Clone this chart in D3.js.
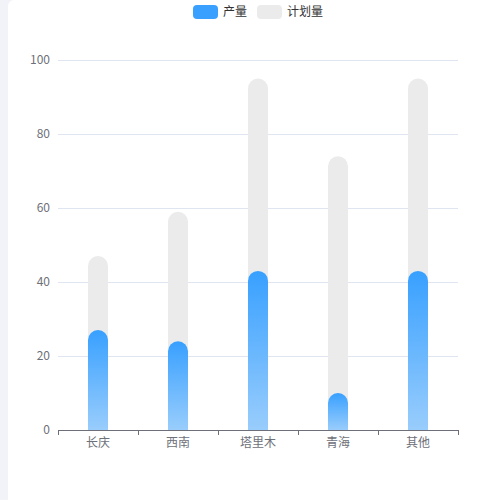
<!DOCTYPE html>
<html>
<head>
<meta charset="utf-8">
<script src="https://cdn.jsdelivr.net/npm/d3@7"></script>
<style>
  html, body { margin: 0; padding: 0; background: #f2f3f8; }
  #card { position: absolute; left: 8px; top: 0; width: 492px; height: 500px; background: #fff; border-radius: 6px 0 0 0; }
  svg { position: absolute; left: 0; top: 0; }
  text { font-family: "Noto Sans CJK SC", "Noto Sans", sans-serif; }
</style>
</head>
<body>
<div id="card"></div>
<svg id="chart" width="500" height="500"></svg>
<script>
// data
const categories = ["长庆", "西南", "塔里木", "青海", "其他"];
const output     = [27, 24, 43, 10, 43];   // 产量
const planned    = [47, 59, 95, 74, 95];   // 计划量
const yTicks     = [0, 20, 40, 60, 80, 100];
const seriesNames = ["产量", "计划量"];

const svg = d3.select("#chart");
const margin = { top: 60, right: 42, bottom: 70, left: 58 };
const W = 500, H = 500;
const width = W - margin.left - margin.right;
const height = H - margin.top - margin.bottom;
const g = svg.append("g").attr("transform", `translate(${margin.left},${margin.top})`);

const x = d3.scaleBand().domain(categories).range([0, width]);
const y = d3.scaleLinear().domain([0, 100]).range([height, 0]);
const barW = 20;

// gradient for 产量
const defs = svg.append("defs");
const grad = defs.append("linearGradient").attr("id", "blueGrad")
  .attr("x1", 0).attr("y1", 0).attr("x2", 0).attr("y2", 1);
grad.append("stop").attr("offset", "0%").attr("stop-color", "#38a0ff");
grad.append("stop").attr("offset", "100%").attr("stop-color", "#99cdfc");

// gridlines
g.append("g")
  .selectAll("line")
  .data(yTicks.filter(d => d > 0))
  .join("line")
  .attr("x1", 0).attr("x2", width)
  .attr("y1", d => Math.round(y(d)) + 0.5).attr("y2", d => Math.round(y(d)) + 0.5)
  .attr("stroke", "#e0e6f1");

// y labels
g.append("g")
  .selectAll("text")
  .data(yTicks)
  .join("text")
  .attr("x", -8).attr("y", d => y(d))
  .attr("dy", "0.35em")
  .attr("text-anchor", "end")
  .attr("font-size", 12)
  .attr("fill", "#6e7079")
  .text(d => d);

// rounded-top bar path
function barPath(cx, v) {
  const r = barW / 2;
  const x0 = cx - r, x1 = cx + r;
  const yb = y(0), yt = y(v);
  const rr = Math.min(r, yb - yt);
  return `M${x0},${yb}L${x0},${yt + rr}A${r},${rr} 0 0 1 ${x1},${yt + rr}L${x1},${yb}Z`;
}

// planned bars (background)
g.append("g")
  .selectAll("path")
  .data(categories)
  .join("path")
  .attr("d", (c, i) => barPath(x(c) + x.bandwidth() / 2, planned[i]))
  .attr("fill", "#ebebeb");

// output bars
g.append("g")
  .selectAll("path")
  .data(categories)
  .join("path")
  .attr("d", (c, i) => barPath(x(c) + x.bandwidth() / 2, output[i]))
  .attr("fill", "url(#blueGrad)");

// x axis
const xAxis = g.append("g").attr("transform", `translate(0,${height})`);
xAxis.append("line")
  .attr("x1", 0).attr("x2", width).attr("y1", 0.5).attr("y2", 0.5)
  .attr("stroke", "#6e7079");
xAxis.selectAll("line.tick")
  .data(d3.range(categories.length + 1))
  .join("line").attr("class", "tick")
  .attr("x1", i => Math.round(i * x.bandwidth()) + 0.5)
  .attr("x2", i => Math.round(i * x.bandwidth()) + 0.5)
  .attr("y1", 0).attr("y2", 5)
  .attr("stroke", "#6e7079");
xAxis.selectAll("text")
  .data(categories)
  .join("text")
  .attr("x", c => x(c) + x.bandwidth() / 2)
  .attr("y", 13)
  .attr("dy", "0.35em")
  .attr("text-anchor", "middle")
  .attr("font-size", 12)
  .attr("fill", "#6e7079")
  .text(c => c);

// legend
const legendColors = ["#3aa0ff", "#ebebeb"];
const legend = svg.append("g").attr("transform", "translate(193,5)");
const lg = legend.selectAll("g")
  .data(seriesNames)
  .join("g")
  .attr("transform", (d, i) => `translate(${i * 64},0)`);
lg.append("rect")
  .attr("width", 25).attr("height", 14).attr("rx", 4)
  .attr("fill", (d, i) => legendColors[i]);
lg.append("text")
  .attr("x", 30).attr("y", 7).attr("dy", "0.35em")
  .attr("font-size", 12).attr("fill", "#333")
  .text(d => d);
</script>
</body>
</html>
